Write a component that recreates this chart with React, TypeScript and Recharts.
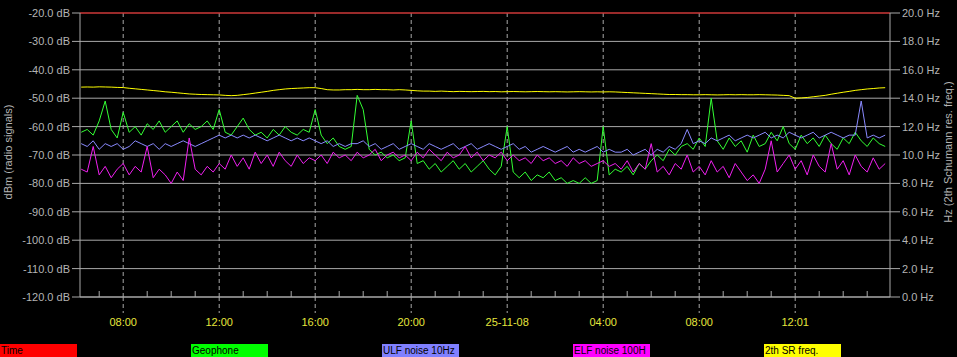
import { LineChart, Line, XAxis, YAxis, CartesianGrid, ReferenceLine } from "recharts";

// samples every 15 min, first one at 06:15 on day 1 (hours since midnight)
const startHour = 6.25;
const stepHours = 0.25;

const geophone = [
  -62, -61, -63, -58, -51, -61, -64, -55, -62, -60, -63, -59, -61, -58, -62, -60, -58, -62, -59, -61,
  -60, -58, -61, -54, -62, -63, -60, -57, -61, -63, -62, -64, -61, -63, -60, -62, -63, -61, -62, -54,
  -63, -66, -64, -67, -68, -67, -49, -54, -68, -70, -69, -71, -70, -72, -71, -58, -73, -72, -75, -73,
  -76, -74, -72, -75, -73, -76, -74, -72, -75, -77, -74, -60, -76, -78, -76, -79, -77, -78, -76, -79,
  -78, -80, -79, -80, -78, -80, -79, -60, -77, -75, -76, -74, -77, -73, -75, -72, -70, -72, -68, -70,
  -67, -66, -68, -64, -67, -50, -65, -68, -64, -67, -65, -69, -63, -67, -66, -62, -65, -60, -66, -68,
  -63, -66, -64, -67, -63, -66, -68, -64, -66, -62, -65, -67, -64, -66, -67,
];

const ulfNoise = [
  -66, -67, -65, -68, -66, -67, -66, -68, -67, -65, -66, -67, -66, -68, -66, -67, -66, -65, -66, -67,
  -66, -65, -64, -63, -64, -63, -64, -63, -64, -63, -64, -65, -64, -63, -64, -65, -64, -65, -64, -65,
  -66, -65, -67, -66, -67, -66, -66, -65, -67, -66, -68, -67, -66, -68, -67, -66, -67, -68, -66, -67,
  -68, -67, -66, -68, -67, -66, -68, -67, -66, -67, -68, -67, -66, -68, -67, -69, -68, -67, -68, -69,
  -68, -67, -69, -68, -69, -68, -67, -69, -68, -69, -69, -68, -70, -69, -68, -70, -68, -69, -67, -68,
  -66, -61, -66, -65, -66, -64, -65, -64, -63, -65, -64, -63, -64, -63, -62, -64, -63, -64, -62, -63,
  -64, -63, -62, -64, -63, -62, -63, -64, -63, -63, -51, -64, -63, -64, -63,
];

const elfNoise = [
  -75, -76, -67, -77, -74, -78, -75, -73, -77, -74, -76, -67, -78, -75, -77, -80, -76, -79, -64, -75,
  -77, -74, -76, -73, -75, -70, -74, -71, -75, -69, -73, -70, -74, -69, -72, -74, -70, -73, -71, -72,
  -70, -73, -69, -71, -70, -72, -69, -71, -70, -68, -72, -70, -69, -71, -70, -72, -69, -71, -68, -70,
  -72, -69, -71, -70, -67, -71, -69, -72, -70, -71, -69, -72, -70, -72, -71, -73, -70, -72, -71, -73,
  -72, -74, -71, -73, -72, -74, -73, -72, -74, -73, -75, -72, -76, -73, -75, -66, -76, -74, -77, -73,
  -75, -70, -76, -74, -77, -72, -76, -74, -78, -73, -76, -79, -77, -80, -75, -65, -76, -73, -70, -75,
  -72, -77, -70, -74, -76, -66, -75, -72, -77, -70, -74, -76, -71, -75, -73,
];

const srFreq = [
  14.78, 14.79, 14.78, 14.8, 14.79, 14.78, 14.76, 14.75, 14.7, 14.66, 14.62, 14.58, 14.54, 14.5, 14.45, 14.42,
  14.38, 14.34, 14.3, 14.28, 14.26, 14.25, 14.24, 14.23, 14.2, 14.18, 14.2, 14.25, 14.3, 14.36, 14.42,
  14.48, 14.55, 14.6, 14.65, 14.68, 14.7, 14.72, 14.74, 14.74, 14.68, 14.6, 14.58, 14.58, 14.6, 14.6,
  14.62, 14.6, 14.6, 14.62, 14.6, 14.6, 14.58, 14.6, 14.58, 14.55, 14.52, 14.5, 14.5, 14.48, 14.5,
  14.48, 14.46, 14.48, 14.47, 14.46, 14.47, 14.48, 14.46, 14.47, 14.45, 14.46, 14.47, 14.46, 14.45, 14.46,
  14.47, 14.46, 14.45, 14.46, 14.45, 14.44, 14.45, 14.46, 14.45, 14.44, 14.45, 14.44, 14.45, 14.44,
  14.42, 14.4, 14.38, 14.36, 14.34, 14.32, 14.3, 14.28, 14.26, 14.26, 14.25, 14.25,
  14.24, 14.24, 14.25, 14.24, 14.23, 14.24, 14.25, 14.24, 14.25, 14.24, 14.24, 14.25, 14.24, 14.23, 14.22, 14.2, 14.18,
  14.0, 14.02, 14.05, 14.1, 14.15, 14.2, 14.28, 14.35, 14.42, 14.48, 14.55, 14.6, 14.65, 14.68, 14.72, 14.74,
];

const hourTicks = [7, 8, 9, 10, 11, 12, 13, 14, 15, 16, 17, 18, 19, 20, 21, 22, 23, 24, 25, 26, 27, 28, 29, 30, 31, 32, 33, 34, 35, 36, 37, 38, 39];
const majorHours = [8, 12, 16, 20, 24, 28, 32, 36];
const majorLabels = ["08:00", "12:00", "16:00", "20:00", "25-11-08", "04:00", "08:00", "12:01"];
const dbTicks = [-120, -110, -100, -90, -80, -70, -60, -50, -40, -30, -20];
const hzTicks = [0, 2, 4, 6, 8, 10, 12, 14, 16, 18, 20];

const legendItems = [
  { name: "Time", color: "#ff0000" },
  { name: "Geophone", color: "#00ff00" },
  { name: "ULF noise 10Hz", color: "#8080ff" },
  { name: "ELF noise 100H", color: "#ff00ff" },
  { name: "2th SR freq.", color: "#ffff00" },
];

const data = geophone.map((g, i) => ({
  h: startHour + i * stepHours,
  geo: g,
  ulf: ulfNoise[i],
  elf: elfNoise[i],
  sr: srFreq[i],
}));

const FONT = "'Liberation Sans', Arial, sans-serif";
const GRID = "#a8a8a8";
const TEXT = "#b4b4b4";

function TimeTick(props: any) {
  const { x, y, payload } = props;
  const idx = majorHours.indexOf(payload.value);
  if (idx >= 0) {
    return (
      <g>
        <line x1={x} x2={x} y1={y} y2={y + 16} stroke={GRID} strokeDasharray="4 3" />
        <text x={x} y={y + 29} textAnchor="middle" fill="#e6e63c" fontSize={11} fontFamily={FONT}>
          {majorLabels[idx]}
        </text>
      </g>
    );
  }
  return <line x1={x} x2={x} y1={y - 6} y2={y} stroke={GRID} />;
}

export default function App() {
  return (
    <div style={{ position: "relative", width: 957, height: 357, background: "#000", overflow: "hidden", fontFamily: FONT }}>
      <style>{"body{margin:0;background:#000}"}</style>
      <LineChart width={957} height={357} data={data} margin={{ top: 13, right: 0, bottom: 0, left: 0 }}>
        <CartesianGrid yAxisId="db" vertical={false} stroke={GRID} />
        <XAxis
          dataKey="h"
          type="number"
          domain={[6.2, 39.95]}
          ticks={hourTicks}
          interval={0}
          height={60}
          tickSize={0}
          tickMargin={0}
          tick={<TimeTick />}
          stroke={GRID}
        />
        <YAxis
          yAxisId="db"
          orientation="left"
          width={80}
          domain={[-120, -20]}
          ticks={dbTicks}
          interval={0}
          tickSize={8}
          tickMargin={2}
          stroke={GRID}
          tick={{ fill: TEXT, fontSize: 11, fontFamily: FONT }}
          tickFormatter={(v: number) => `${v.toFixed(1)} dB`}
        />
        <YAxis
          yAxisId="hz"
          orientation="right"
          width={67}
          domain={[0, 20]}
          ticks={hzTicks}
          interval={0}
          tickSize={10}
          tickMargin={2}
          stroke={GRID}
          tick={{ fill: TEXT, fontSize: 11, fontFamily: FONT }}
          tickFormatter={(v: number) => `${v.toFixed(1)} Hz`}
        />
        {majorHours.map((h) => (
          <ReferenceLine key={h} yAxisId="db" x={h} stroke={GRID} strokeDasharray="4 3" />
        ))}
        <ReferenceLine yAxisId="db" y={-20} stroke="#e00000" />
        <Line yAxisId="db" dataKey="geo" stroke="#33ff33" strokeWidth={1} dot={false} isAnimationActive={false} />
        <Line yAxisId="db" dataKey="ulf" stroke="#8a8aff" strokeWidth={1} dot={false} isAnimationActive={false} />
        <Line yAxisId="db" dataKey="elf" stroke="#f020f0" strokeWidth={1} dot={false} isAnimationActive={false} />
        <Line yAxisId="hz" dataKey="sr" stroke="#ffff00" strokeWidth={1} dot={false} isAnimationActive={false} />
      </LineChart>
      <svg width={957} height={357} style={{ position: "absolute", left: 0, top: 0, pointerEvents: "none" }}>
        <text x={12} y={152} transform="rotate(-90 12 152)" textAnchor="middle" fill={TEXT} fontSize={11} fontFamily={FONT}>
          dBm (radio signals)
        </text>
        <text x={952} y={152} transform="rotate(-90 952 152)" textAnchor="middle" fill={TEXT} fontSize={11} fontFamily={FONT}>
          Hz (2th Schumann res. freq.)
        </text>
      </svg>
      {legendItems.map((item, i) => (
        <div
          key={item.name}
          style={{
            position: "absolute",
            left: i * 191,
            top: 344,
            width: 77,
            height: 13,
            background: item.color,
            color: "#000",
            fontSize: 10,
            lineHeight: "13px",
            paddingLeft: 1,
            boxSizing: "border-box",
            whiteSpace: "nowrap",
            overflow: "hidden",
          }}
        >
          {item.name}
        </div>
      ))}
    </div>
  );
}
